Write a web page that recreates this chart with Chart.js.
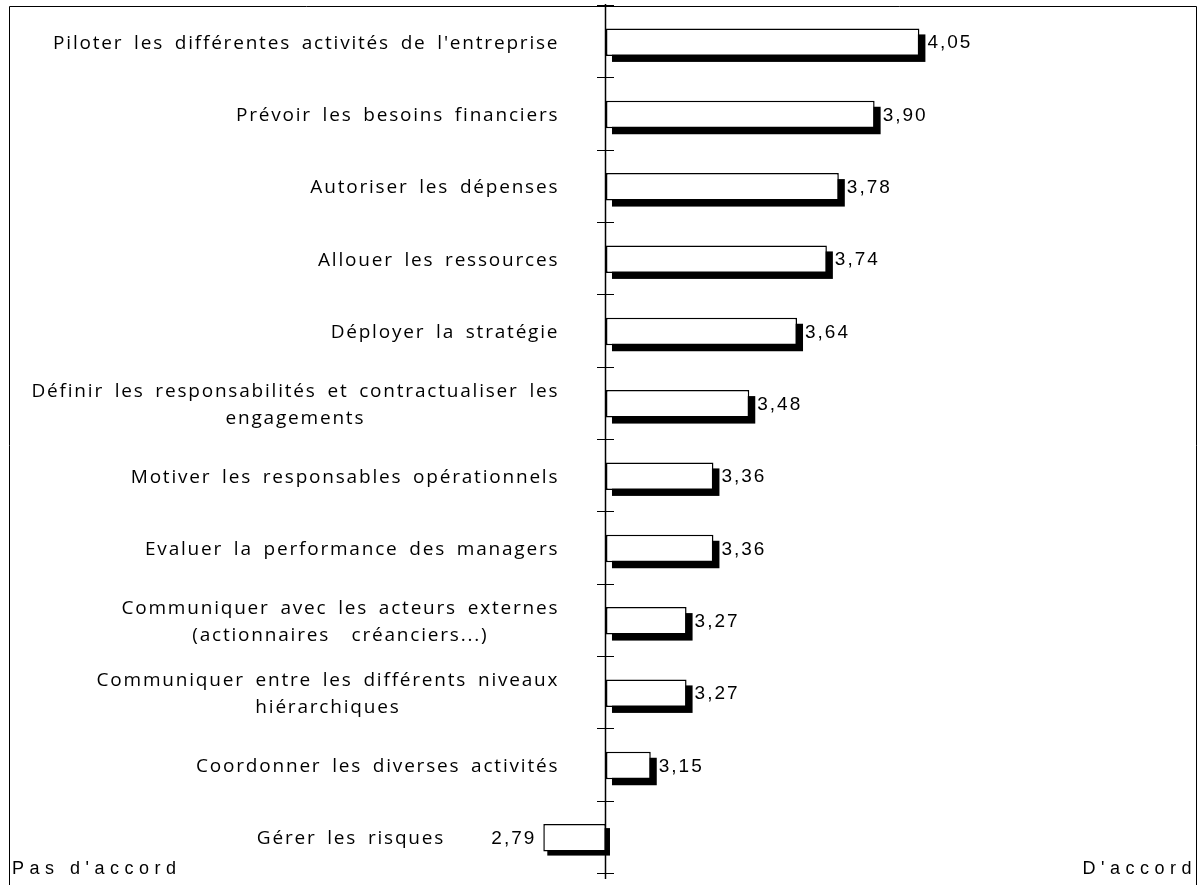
<!DOCTYPE html>
<html>
<head>
<meta charset="utf-8">
<script src="https://cdn.jsdelivr.net/npm/chart.js@4.4.0/dist/chart.umd.min.js"></script>
<style>
  html, body { margin: 0; padding: 0; background: #fff; }
  #wrap { width: 1198px; height: 885px; }
</style>
</head>
<body>
<div id="wrap"><canvas id="myChart"></canvas></div>
<script>
// data
var categories = [
  "Piloter les différentes activités de l'entreprise",
  "Prévoir les besoins financiers",
  "Autoriser les dépenses",
  "Allouer les ressources",
  "Déployer la stratégie",
  ["Définir les responsabilités et contractualiser les", "engagements"],
  "Motiver les responsables opérationnels",
  "Evaluer la performance des managers",
  ["Communiquer avec les acteurs externes", "(actionnaires  créanciers...)"],
  ["Communiquer entre les différents niveaux", "hiérarchiques"],
  "Coordonner les diverses activités",
  "Gérer les risques"
];
var scores = [4.05, 3.90, 3.78, 3.74, 3.64, 3.48, 3.36, 3.36, 3.27, 3.27, 3.15, 2.79];
var neutral = 3;
var scaleMin = 1;
var scaleMax = 4.98;
var leftLabel = "Pas d'accord";
var rightLabel = "D'accord";

function fmt(v) {
  return v.toFixed(2).replace('.', ',');
}

var labelFont = '19px "Open Sans", sans-serif';
var valueFont = '19px "Liberation Sans", Arial, sans-serif';

var decorations = {
  id: 'decorations',
  beforeDatasetsDraw(chart) {
    var ctx = chart.ctx;
    var meta = chart.getDatasetMeta(0);
    ctx.save();
    ctx.fillStyle = '#000';
    meta.data.forEach(function (bar, i) {
      var p = bar.getProps(['x', 'y', 'base', 'height'], true);
      var left = Math.min(p.x, p.base);
      var w = Math.abs(p.x - p.base);
      var off = scores[i] < neutral ? 4 : 6;
      ctx.fillRect(left + off, p.y - p.height / 2 + off, w, p.height);
    });
    ctx.restore();
  },
  afterDatasetsDraw(chart) {
    var ctx = chart.ctx;
    var area = chart.chartArea;
    var xs = chart.scales.x;
    var ys = chart.scales.y;
    var axisX = Math.round(xs.getPixelForValue(neutral)) - 0.5;
    ctx.save();

    // frame
    ctx.strokeStyle = '#000';
    ctx.lineWidth = 1;
    ctx.beginPath();
    ctx.moveTo(Math.round(area.left) + 0.5, chart.height);
    ctx.lineTo(Math.round(area.left) + 0.5, Math.round(area.top) + 0.5);
    ctx.lineTo(Math.round(area.right) - 0.5, Math.round(area.top) + 0.5);
    ctx.lineTo(Math.round(area.right) - 0.5, chart.height);
    ctx.stroke();

    // axis line and crossing ticks
    ctx.lineWidth = 1.5;
    ctx.beginPath();
    ctx.moveTo(axisX, area.top - 2);
    ctx.lineTo(axisX, area.bottom + 5);
    ctx.stroke();
    ctx.lineWidth = 1;
    for (var i = 0; i <= categories.length; i++) {
      var ty = Math.round(ys.getPixelForValue(i - 0.5)) - 0.5;
      ctx.beginPath();
      ctx.moveTo(axisX - 8.5, ty);
      ctx.lineTo(axisX + 8.5, ty);
      ctx.stroke();
    }

    // value labels (remember left edge for negative side)
    ctx.fillStyle = '#000';
    ctx.font = valueFont;
    ctx.letterSpacing = '2px';
    ctx.textBaseline = 'middle';
    var labelRight = [];
    scores.forEach(function (v, i) {
      var px = xs.getPixelForValue(v);
      var py = ys.getPixelForValue(i) + 1;
      var txt = fmt(v);
      if (v >= neutral) {
        ctx.textAlign = 'left';
        ctx.fillText(txt, px + 8, py);
        labelRight.push(axisX - 48);
      } else {
        ctx.textAlign = 'right';
        ctx.fillText(txt, px - 7, py);
        var tw = ctx.measureText(txt).width;
        labelRight.push(px - 7 - tw - 48);
      }
    });

    // category labels
    ctx.font = labelFont;
    ctx.letterSpacing = '1.8px';
    ctx.wordSpacing = '4px';
    ctx.textAlign = 'center';
    categories.forEach(function (lab, i) {
      var lines = Array.isArray(lab) ? lab : [lab];
      var w = 0;
      lines.forEach(function (l) { w = Math.max(w, ctx.measureText(l).width); });
      var cx = labelRight[i] - w / 2 + 1.8;
      var cy = ys.getPixelForValue(i);
      var lh = 27;
      var y0 = cy - (lines.length - 1) * lh / 2 + 1;
      lines.forEach(function (l, k) {
        ctx.fillText(l, cx, y0 + k * lh);
      });
    });

    // bottom texts
    ctx.font = '18px "Liberation Sans", Arial, sans-serif';
    ctx.letterSpacing = '5.5px';
    ctx.wordSpacing = '0px';
    ctx.textBaseline = 'alphabetic';
    ctx.textAlign = 'left';
    ctx.fillText(leftLabel, area.left + 3, 874);
    ctx.textAlign = 'right';
    ctx.fillText(rightLabel, area.right, 874);

    ctx.restore();
  }
};

var ctx = document.getElementById('myChart').getContext('2d');
var chart = new Chart(ctx, {
  type: 'bar',
  data: {
    labels: categories,
    datasets: [{
      data: scores.map(function (v) { return [neutral, v]; }),
      backgroundColor: '#fff',
      borderColor: '#000',
      borderWidth: 1.5,
      borderSkipped: false,
      barPercentage: 0.38,
      categoryPercentage: 1
    }]
  },
  options: {
    indexAxis: 'y',
    responsive: true,
    maintainAspectRatio: false,
    animation: false,
    layout: { padding: { left: 9, right: 1, top: 6, bottom: 11 } },
    plugins: {
      legend: { display: false },
      tooltip: { enabled: false }
    },
    scales: {
      x: { display: false, min: scaleMin, max: scaleMax },
      y: { display: false }
    }
  },
  plugins: [decorations]
});
</script>
</body>
</html>
